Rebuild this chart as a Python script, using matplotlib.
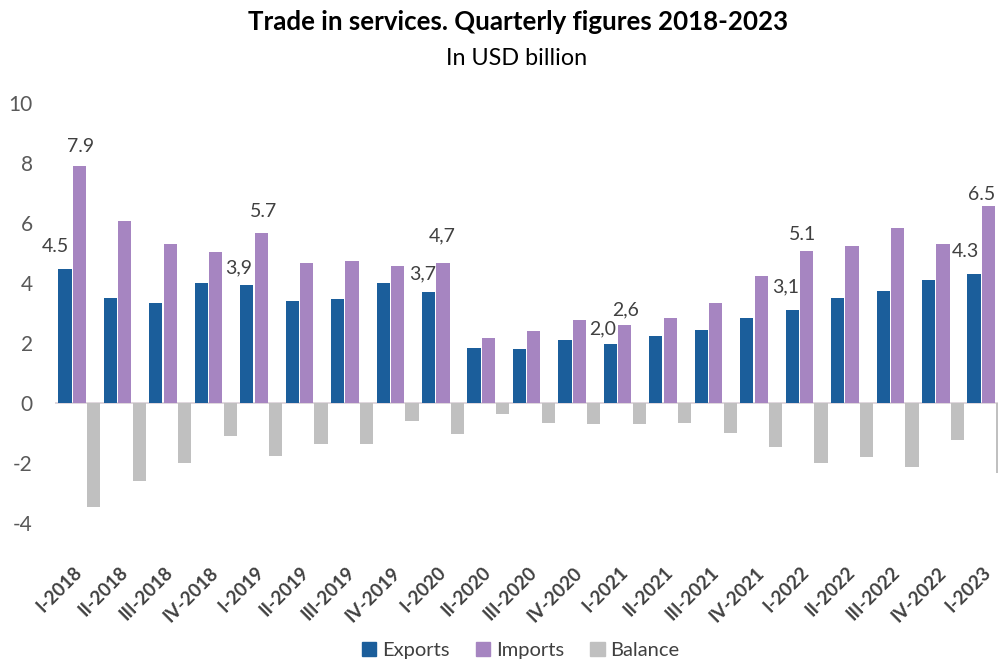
import numpy as np
import matplotlib
matplotlib.use("Agg")
import matplotlib.pyplot as plt
from matplotlib.patches import Patch

quarters = ["I-2018", "II-2018", "III-2018", "IV-2018",
            "I-2019", "II-2019", "III-2019", "IV-2019",
            "I-2020", "II-2020", "III-2020", "IV-2020",
            "I-2021", "II-2021", "III-2021", "IV-2021",
            "I-2022", "II-2022", "III-2022", "IV-2022",
            "I-2023"]

exports = [4.47, 3.50, 3.34, 4.00, 3.93, 3.38, 3.47, 4.00, 3.69, 1.84, 1.78,
           2.09, 1.97, 2.22, 2.41, 2.84, 3.09, 3.50, 3.74, 4.09, 4.28]
imports = [7.89, 6.06, 5.30, 5.02, 5.66, 4.66, 4.74, 4.56, 4.66, 2.16, 2.38,
           2.76, 2.59, 2.84, 3.34, 4.24, 5.06, 5.24, 5.84, 5.28, 6.56]
balance = [-3.47, -2.60, -2.00, -1.10, -1.79, -1.36, -1.36, -0.60, -1.04, -0.36, -0.67,
           -0.70, -0.70, -0.67, -1.00, -1.48, -2.00, -1.80, -2.13, -1.23, -2.33]

# value labels as printed on the chart (series, quarter index, text)
label_series = ["exp", "imp", "exp", "imp", "exp", "imp",
                "exp", "imp", "exp", "imp", "exp", "imp"]
label_index = [0, 0, 4, 4, 8, 8, 12, 12, 16, 16, 20, 20]
label_text = ["4.5", "7.9", "3,9", "5.7", "3,7", "4,7",
              "2,0", "2,6", "3,1", "5.1", "4.3", "6.5"]

# placement of each label relative to its bar top, in pixels
label_dx = [-10, 1, -8, 2, -6, -1, -8, 1, -7, -4, -9, -7]
label_dy = [22, 19, 17, 21, 18, 27, 15, 15, 23, 16, 23, 11]

C_EXP = "#1B5E9B"
C_IMP = "#A685C1"
C_BAL = "#C0C0C0"
TXT = "#404040"

plt.rcParams["font.family"] = ["Lato", "DejaVu Sans"]
plt.rcParams["axes.unicode_minus"] = False

fig = plt.figure(figsize=(9.98, 6.61), dpi=100)
ax = fig.add_axes([55 / 998, 1 - 522.7 / 661, 1 - 55 / 998, (522.7 - 102.7) / 661])

x = np.arange(len(quarters))
w = 0.29
off = 0.317
ax.bar(x - off, exports, w, color=C_EXP, zorder=2)
ax.bar(x, imports, w, color=C_IMP, zorder=2)
ax.bar(x + off, balance, w, color=C_BAL, zorder=2)
ax.axhline(0, color="#DCD3DA", lw=1.3, zorder=1)

ax.set_xlim(-0.535, 20.21)
ax.set_ylim(-4, 10)
ax.set_yticks(range(-4, 11, 2))
ax.tick_params(axis="y", length=0, pad=16, labelsize=15, labelcolor="#595959")
ax.set_xticks(x)
ax.set_xticklabels(quarters, rotation=45, ha="right", va="center",
                   rotation_mode="anchor", fontweight="bold", fontsize=13.5, color=TXT)
ax.tick_params(axis="x", length=0, pad=34)
for s in ax.spines.values():
    s.set_visible(False)

for ser, i, t, dx, dy in zip(label_series, label_index, label_text, label_dx, label_dy):
    if ser == "exp":
        xi, yi = x[i] - off, exports[i]
    else:
        xi, yi = x[i], imports[i]
    ax.annotate(t, (xi, yi), xytext=(dx, dy), textcoords="offset pixels",
                ha="center", va="center", fontsize=14, color=TXT)

fig.text(0.519, 1 - 30 / 661, "Trade in services. Quarterly figures 2018-2023",
         ha="center", va="baseline", fontsize=18.6, fontweight="bold", color="black")
fig.text(0.518, 1 - 65 / 661, "In USD billion", ha="center", va="baseline",
         fontsize=16.8, color="black")

handles = [Patch(color=C_EXP, label="Exports"),
           Patch(color=C_IMP, label="Imports"),
           Patch(color=C_BAL, label="Balance")]
fig.legend(handles=handles, loc="center", bbox_to_anchor=(0.522, 1 - 650.7 / 661),
           ncol=3, frameon=False, fontsize=14.5, handlelength=0.7, handleheight=0.7,
           handletextpad=0.3, columnspacing=1.3, labelcolor=TXT)

fig.savefig("out.png", dpi=100)
